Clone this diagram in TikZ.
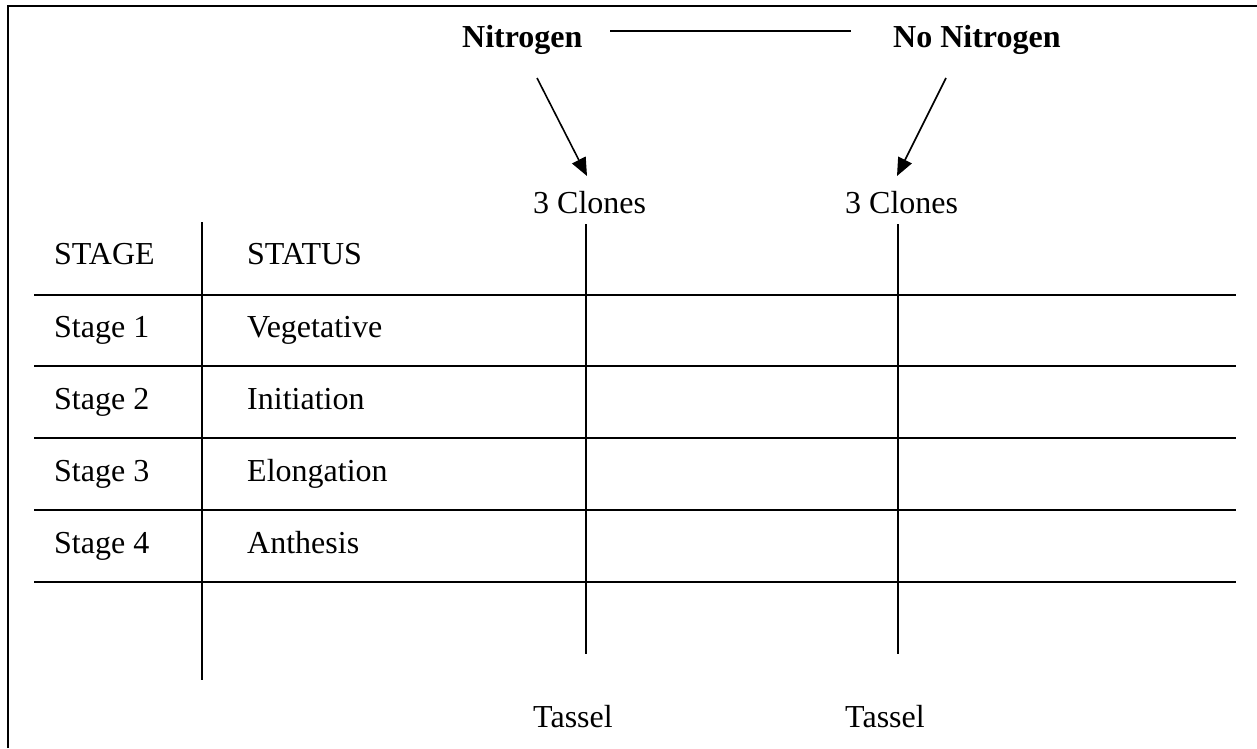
\documentclass[tikz,border=0pt]{standalone}
\usepackage{fontspec}
\setmainfont{Liberation Serif}
\usetikzlibrary{arrows.meta}
\tikzset{
  txt/.style={anchor=base west, inner sep=0pt, font=\fontsize{32}{38}\selectfont},
  btxt/.style={txt, font=\fontsize{32}{38}\selectfont\bfseries},
  rule/.style={line width=2pt},
  thin/.style={line width=1.6pt},
  arr/.style={line width=1.6pt, -{Triangle[length=18pt,width=15pt]}}
}
\begin{document}
\begin{tikzpicture}[x=1pt,y=-1pt]
\useasboundingbox (0,0) rectangle (1257,748);
% frame (top and left)
\draw[rule] (8,748) -- (8,6) -- (1257,6);
% headings
\node[btxt] (nit) at (462,47) {Nitrogen};
\node[btxt] (nonit) at (893,47) {No Nitrogen};
\coordinate (l1) at (610,31);
\coordinate (l2) at (851,31);
\draw[thin] (l1) -- (l2);
\node[txt] (c1) at (533,213) {3 Clones};
\node[txt] (c2) at (845,213) {3 Clones};
\coordinate (a1s) at (537,78);
\coordinate (a1e) at (587,176);
\coordinate (a2s) at (946,78);
\coordinate (a2e) at (897,176);
\draw[arr] (a1s) -- (a1e);
\draw[arr] (a2s) -- (a2e);
% table
\node[txt] (stage) at (54,264) {STAGE};
\node[txt] (status) at (247,264) {STATUS};
\node[txt] (s1) at (54,337) {Stage 1};
\node[txt] (v1) at (247,337) {Vegetative};
\node[txt] (s2) at (54,409) {Stage 2};
\node[txt] (v2) at (247,409) {Initiation};
\node[txt] (s3) at (54,481) {Stage 3};
\node[txt] (v3) at (247,481) {Elongation};
\node[txt] (s4) at (54,553) {Stage 4};
\node[txt] (v4) at (247,553) {Anthesis};
\foreach \y in {295,366,438,510,582}{
  \draw[rule] (34,\y) -- (1236,\y);
}
\coordinate (va) at (202,222);
\coordinate (vb) at (202,680);
\draw[rule] (va) -- (vb);
\coordinate (vc) at (586,224);
\coordinate (vd) at (586,654);
\draw[rule] (vc) -- (vd);
\coordinate (ve) at (898,224);
\coordinate (vf) at (898,654);
\draw[rule] (ve) -- (vf);
\node[txt] (t1) at (533,727) {Tassel};
\node[txt] (t2) at (845,727) {Tassel};
\end{tikzpicture}
\end{document}
